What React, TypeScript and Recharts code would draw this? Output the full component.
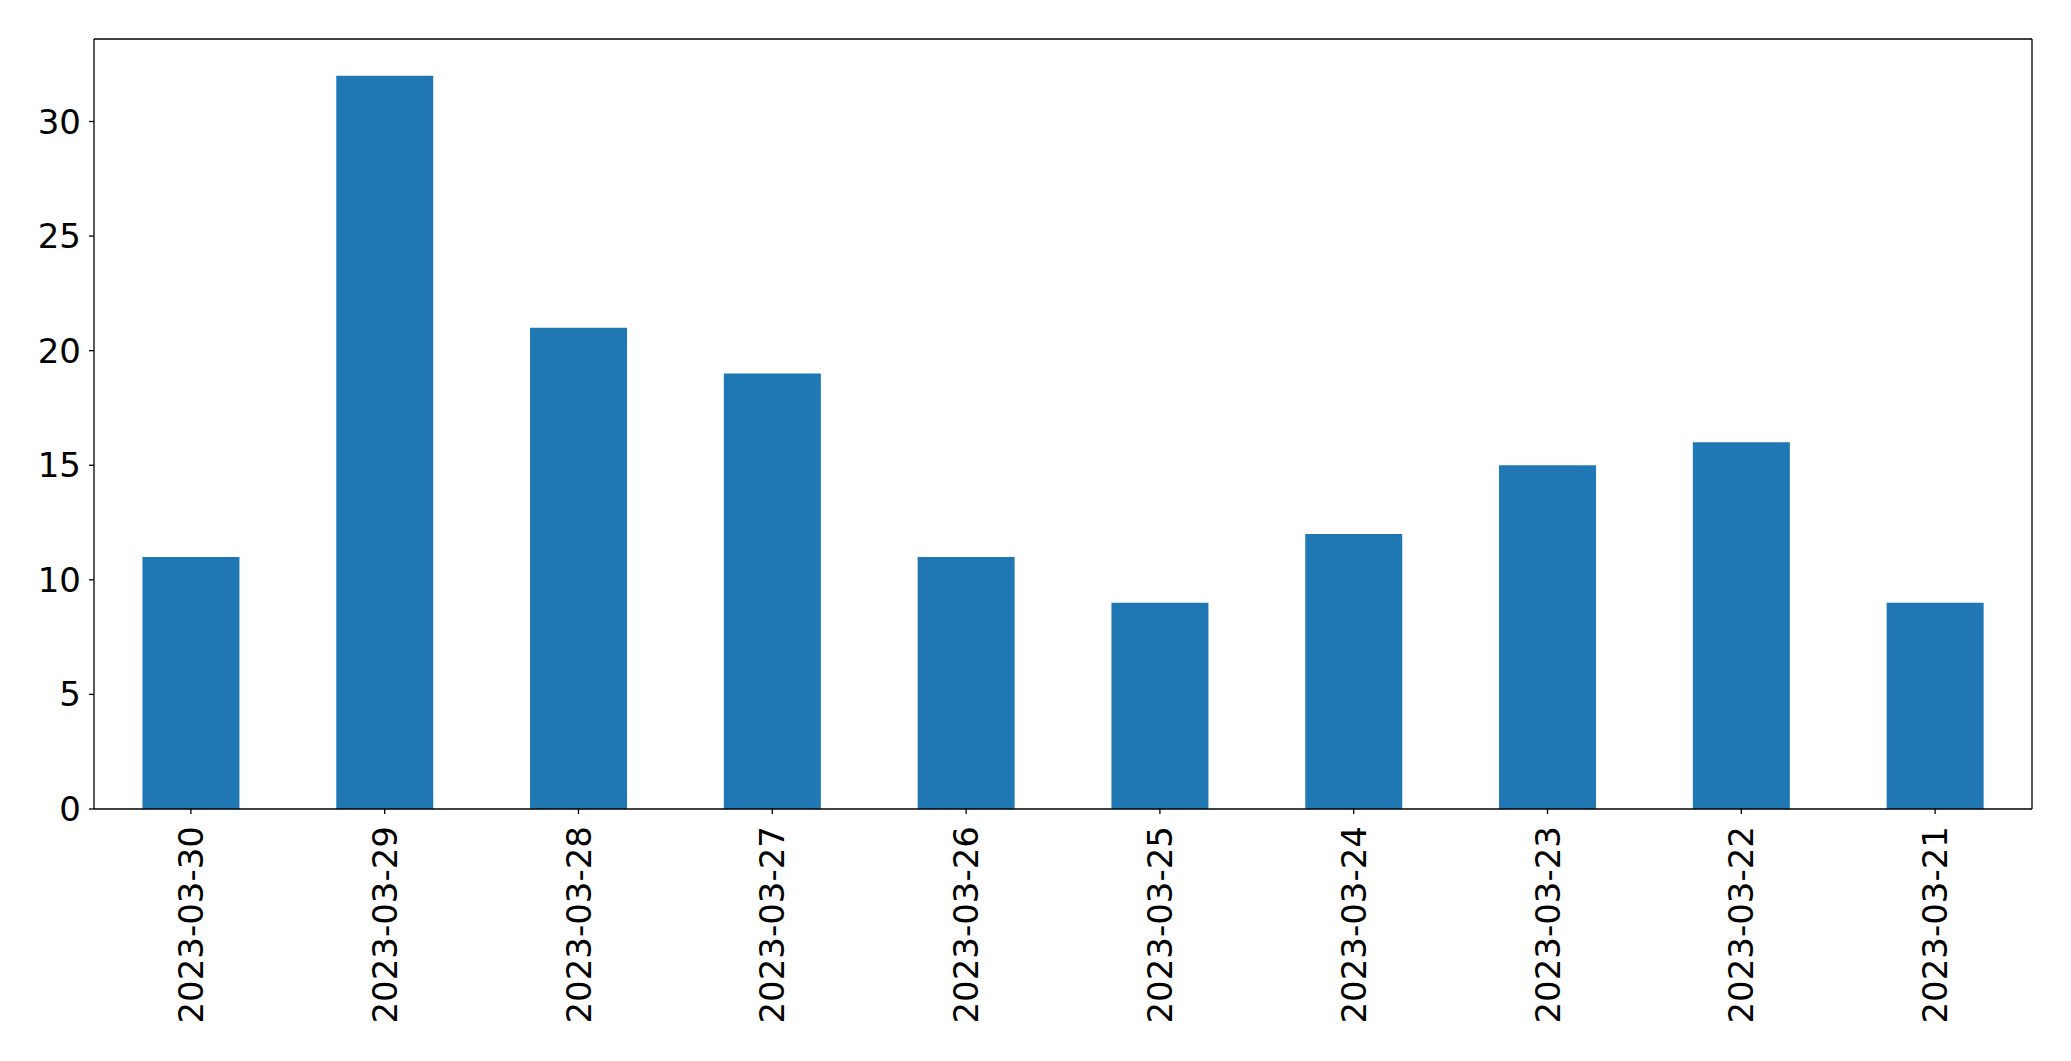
import { BarChart, Bar, XAxis, YAxis } from 'recharts';

const dates = [
  '2023-03-30', '2023-03-29', '2023-03-28', '2023-03-27', '2023-03-26',
  '2023-03-25', '2023-03-24', '2023-03-23', '2023-03-22', '2023-03-21',
];
const counts = [11, 32, 21, 19, 11, 9, 12, 15, 16, 9];
const yTicks = [0, 5, 10, 15, 20, 25, 30];

const data = dates.map((d, i) => ({ date: d, count: counts[i] }));

const FONT = 'DejaVu Sans';

function DateTick(props: any) {
  const { x, y, payload } = props;
  return (
    <text
      x={x}
      y={y}
      transform={`rotate(-90, ${x}, ${y})`}
      textAnchor="end"
      dominantBaseline="central"
      fontFamily={FONT}
      fontSize={34}
      fill="#000"
    >
      {payload.value}
    </text>
  );
}

export default function App() {
  return (
    <div style={{ position: 'absolute', left: 0, top: 0, background: '#fff' }}>
      <BarChart
        width={2071}
        height={1061}
        data={data}
        margin={{ top: 38, right: 38, bottom: 0, left: 0 }}
        barCategoryGap="25%"
      >
        <XAxis
          dataKey="date"
          interval={0}
          height={252}
          tickSize={5}
          tickMargin={12}
          tick={<DateTick />}
          axisLine={{ stroke: '#000', strokeWidth: 1.3 }}
          tickLine={{ stroke: '#000', strokeWidth: 1.3 }}
        />
        <XAxis
          xAxisId="top"
          dataKey="date"
          orientation="top"
          height={1}
          tick={false}
          tickLine={false}
          axisLine={{ stroke: '#000', strokeWidth: 1.3 }}
        />
        <YAxis
          domain={[0, 33.6]}
          ticks={yTicks}
          width={94}
          tickSize={5}
          tickMargin={8}
          tick={{ fontFamily: FONT, fontSize: 34, fill: '#000' }}
          axisLine={{ stroke: '#000', strokeWidth: 1.3 }}
          tickLine={{ stroke: '#000', strokeWidth: 1.3 }}
        />
        <YAxis
          yAxisId="right"
          orientation="right"
          domain={[0, 33.6]}
          width={1}
          tick={false}
          tickLine={false}
          axisLine={{ stroke: '#000', strokeWidth: 1.3 }}
        />
        <Bar dataKey="count" fill="#1f77b4" isAnimationActive={false} />
      </BarChart>
    </div>
  );
}
